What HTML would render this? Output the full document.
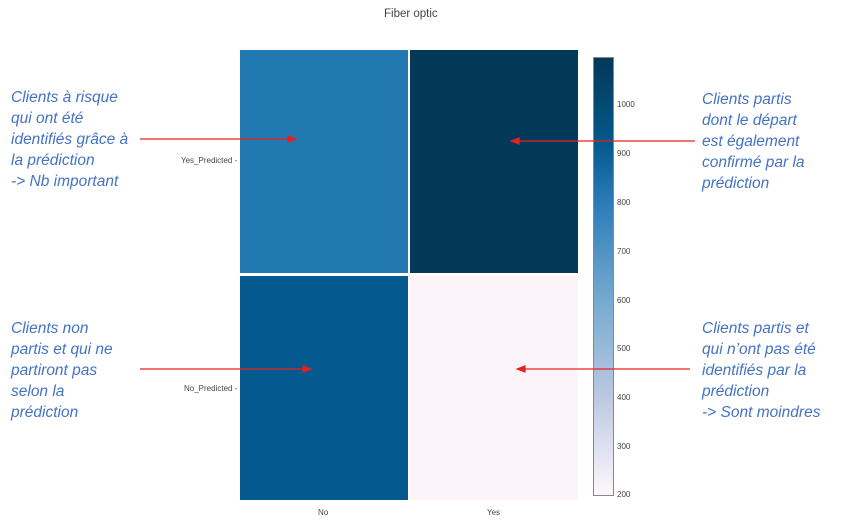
<!DOCTYPE html>
<html><head><meta charset="utf-8"><style>
body{margin:0;width:843px;height:520px;background:#fff;position:relative;overflow:hidden;font-family:"Liberation Sans",sans-serif}
.t{position:absolute;color:#4472c4;font-style:italic;font-size:15.5px;line-height:21px;white-space:nowrap}
.s{position:absolute;font-size:8px;color:#444}
</style></head><body>
<div class="s" style="left:384px;top:8px;font-size:11.5px;color:#444">Fiber optic</div>
<div style="position:absolute;left:240px;top:50px;width:168px;height:223px;background:#2278b0"></div>
<div style="position:absolute;left:410px;top:50px;width:168px;height:223px;background:#023858"></div>
<div style="position:absolute;left:240px;top:276px;width:168px;height:224px;background:#045a8f"></div>
<div style="position:absolute;left:410px;top:276px;width:168px;height:224px;background:#fdf4fa"></div>
<div class="s" style="left:181px;top:156px">Yes_Predicted -</div>
<div class="s" style="left:184px;top:384px">No_Predicted -</div>
<div class="s" style="left:318px;top:508px">No</div>
<div class="s" style="left:487px;top:508px">Yes</div>
<div style="position:absolute;left:593px;top:57px;width:19px;height:437px;border:1px solid #888;background:linear-gradient(to bottom,#023858 0%,#045a8d 20%,#2b7bb8 33%,#74a9cf 55%,#bdc9e1 78%,#fff7fb 100%)"></div>
<div class="s" style="left:617px;top:100px">1000</div>
<div class="s" style="left:617px;top:149px">900</div>
<div class="s" style="left:617px;top:198px">800</div>
<div class="s" style="left:617px;top:247px">700</div>
<div class="s" style="left:617px;top:296px">600</div>
<div class="s" style="left:617px;top:344px">500</div>
<div class="s" style="left:617px;top:393px">400</div>
<div class="s" style="left:617px;top:442px">300</div>
<div class="s" style="left:617px;top:490px">200</div>
<div class="t" style="left:11px;top:87px">Clients à risque<br>qui ont été<br>identifiés grâce à<br>la prédiction<br>-&gt; Nb important</div>
<div class="t" style="left:702px;top:89px">Clients partis<br>dont le départ<br>est également<br>confirmé par la<br>prédiction</div>
<div class="t" style="left:11px;top:318px">Clients non<br>partis et qui ne<br>partiront pas<br>selon la<br>prédiction</div>
<div class="t" style="left:702px;top:318px">Clients partis et<br>qui n’ont pas été<br>identifiés par la<br>prédiction<br>-&gt; Sont moindres</div>
<svg width="843" height="520" style="position:absolute;left:0;top:0">
<g stroke="#e8211d" stroke-width="1.2" fill="#e8211d">
<line x1="140" y1="139" x2="290" y2="139"/><polygon points="296,139 288,136 288,142"/>
<line x1="695" y1="141" x2="517" y2="141"/><polygon points="511,141 519,138 519,144"/>
<line x1="140" y1="369" x2="305" y2="369"/><polygon points="311,369 303,366 303,372"/>
<line x1="690" y1="369" x2="523" y2="369"/><polygon points="517,369 525,366 525,372"/>
</g></svg>
</body></html>
